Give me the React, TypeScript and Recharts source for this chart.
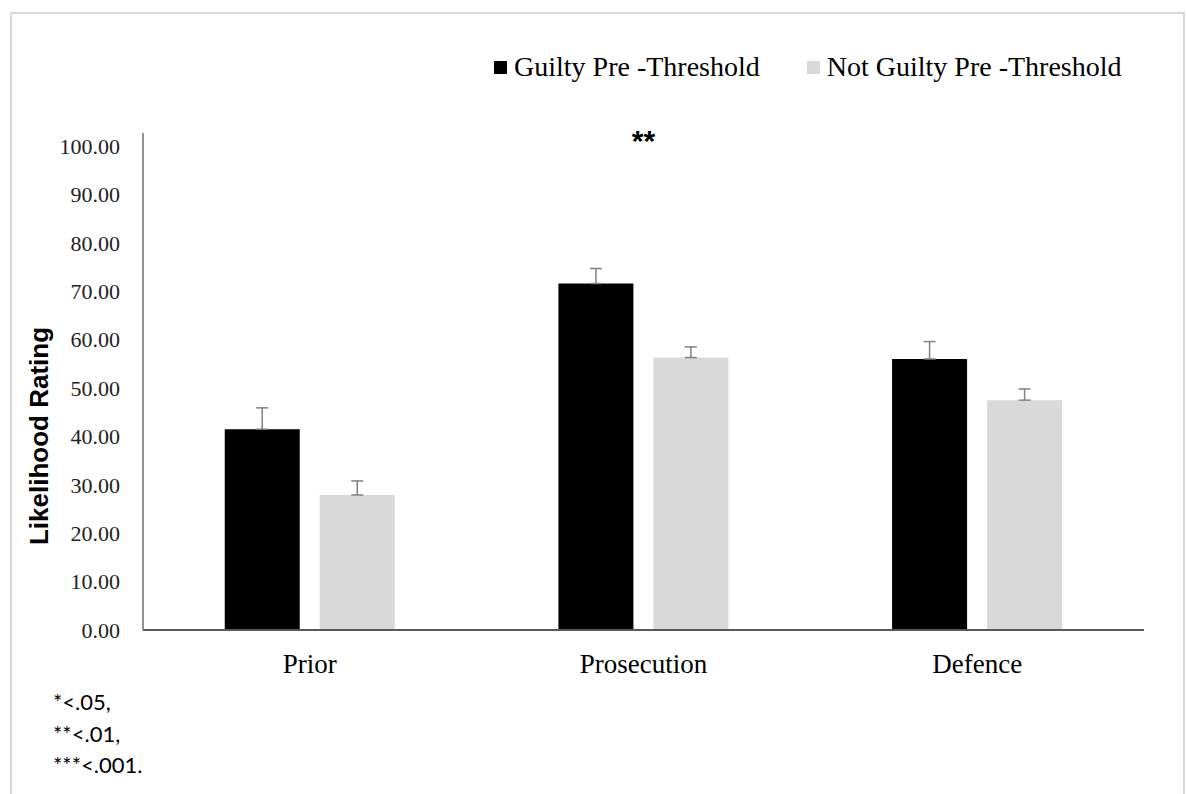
import React from "react";
import {
  BarChart, Bar, XAxis, YAxis, ErrorBar, ReferenceDot,
} from "recharts";

const categories = ["Prior", "Prosecution", "Defence"];
const guiltyMeans = [41.5, 71.6, 56.0];
const guiltyErrors = [4.4, 3.1, 3.6];
const notGuiltyMeans = [27.9, 56.3, 47.5];
const notGuiltyErrors = [2.9, 2.2, 2.3];
const yTicks = [0, 10, 20, 30, 40, 50, 60, 70, 80, 90, 100];
const footnotes = ["*<.05,", "**<.01,", "***<.001."];

const data = categories.map((name, i) => ({
  name,
  guilty: guiltyMeans[i],
  guiltyErr: [0, guiltyErrors[i]],
  notGuilty: notGuiltyMeans[i],
  notGuiltyErr: [0, notGuiltyErrors[i]],
}));

const SERIF = "'Liberation Serif', 'Times New Roman', serif";
const SANS = "'Liberation Sans', Arial, sans-serif";

const legendItems = [
  { label: "Guilty Pre -Threshold", color: "#000000" },
  { label: "Not Guilty Pre -Threshold", color: "#d9d9d9" },
];

function ChartLegend() {
  return (
    <div style={{ display: "flex", alignItems: "center", fontFamily: SERIF, fontSize: 28, lineHeight: "28px", color: "#000" }}>
      {legendItems.map((it, i) => (
        <div key={it.label} style={{ display: "flex", alignItems: "center", marginLeft: i === 0 ? 0 : 47 }}>
          <span style={{ width: 13, height: 13, background: it.color, display: "inline-block", marginRight: 7 }} />
          <span>{it.label}</span>
        </div>
      ))}
    </div>
  );
}

function YLabel() {
  return (
    <text
      x={39}
      y={436}
      transform="rotate(-90, 39, 436)"
      textAnchor="middle"
      dominantBaseline="central"
      style={{ fontFamily: SANS, fontSize: 26, fontWeight: 700, fill: "#000" }}
    >
      Likelihood Rating
    </text>
  );
}

export default function App() {
  return (
    <div style={{ position: "absolute", left: 0, top: 0, width: 1187, height: 794, overflow: "hidden", background: "#fff" }}>
      {/* light frame round the figure */}
      <div style={{ position: "absolute", left: 10, top: 12, width: 1171, height: 800, border: "2px solid #d9d9d9" }} />

      <div style={{ position: "absolute", left: 494, top: 53 }}>
        <ChartLegend />
      </div>

      <div style={{ position: "absolute", left: 0, top: 0 }}>
        <BarChart
          width={1187}
          height={794}
          data={data}
          margin={{ top: 133, right: 43, bottom: 124, left: 0 }}
          barCategoryGap="24.5%"
          barGap={20}
        >
          <XAxis
            dataKey="name"
            height={40}
            tickLine={false}
            tickMargin={18}
            axisLine={{ stroke: "#595959", strokeWidth: 2 }}
            tick={{ fontFamily: SERIF, fontSize: 27, fill: "#000" }}
          />
          <YAxis
            width={143}
            domain={[0, 102.7]}
            ticks={yTicks}
            tickFormatter={(v: number) => v.toFixed(2)}
            tickLine={false}
            tickMargin={17}
            axisLine={{ stroke: "#6f6f6f", strokeWidth: 1.5 }}
            tick={{ fontFamily: SERIF, fontSize: 22, fill: "#222" }}
            label={<YLabel />}
          />
          <Bar dataKey="guilty" name="Guilty Pre -Threshold" fill="#000000" isAnimationActive={false}>
            <ErrorBar dataKey="guiltyErr" direction="y" width={6} stroke="#808080" strokeWidth={1.5} />
          </Bar>
          <Bar dataKey="notGuilty" name="Not Guilty Pre -Threshold" fill="#d9d9d9" isAnimationActive={false}>
            <ErrorBar dataKey="notGuiltyErr" direction="y" width={6} stroke="#808080" strokeWidth={1.5} />
          </Bar>
          <ReferenceDot
            x="Prosecution"
            y={101.2}
            r={1}
            fill="none"
            stroke="none"
            ifOverflow="visible"
            label={{ value: "**", position: "center", fontFamily: SANS, fontSize: 30, fontWeight: 700, fill: "#000" }}
          />
        </BarChart>
      </div>

      <div style={{ position: "absolute", left: 53, top: 686, fontFamily: "Lato, 'Open Sans', sans-serif", fontSize: 22, lineHeight: "31.5px", color: "#000" }}>
        {footnotes.map((f) => (
          <div key={f}>{f}</div>
        ))}
      </div>
    </div>
  );
}
